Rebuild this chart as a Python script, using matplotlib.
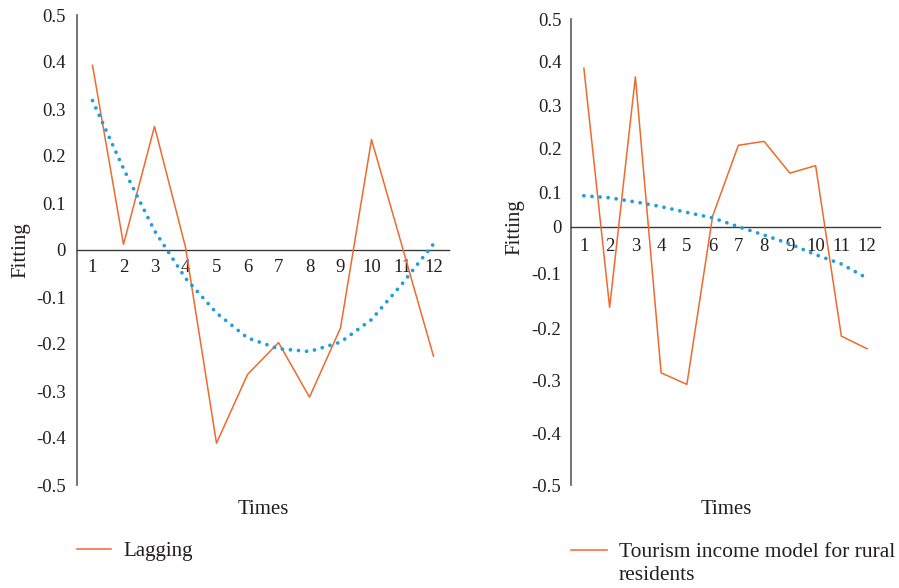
import numpy as np
import matplotlib
matplotlib.use("Agg")
import matplotlib.pyplot as plt

plt.rcParams["font.family"] = ["Liberation Serif", "DejaVu Serif"]

# data
times = list(range(1, 13))
lagging = [0.393, 0.012, 0.263, 0.006, -0.411, -0.265, -0.197, -0.313, -0.166, 0.235, 0.005, -0.226]
lagging_trend = [0.318, 0.173, 0.041, -0.060, -0.134, -0.187, -0.210, -0.216, -0.196, -0.148, -0.071, 0.013]
tourism = [0.385, -0.162, 0.365, -0.285, -0.307, 0.031, 0.207, 0.216, 0.144, 0.161, -0.215, -0.239]
tourism_trend = [0.091, 0.085, 0.073, 0.059, 0.042, 0.026, 0.0, -0.018, -0.037, -0.060, -0.080, -0.109]

y_ticks = [-0.5, -0.4, -0.3, -0.2, -0.1, 0.0, 0.1, 0.2, 0.3, 0.4, 0.5]
y_labels = ["-0.5", "-0.4", "-0.3", "-0.2", "-0.1", "0", "0.1", "0.2", "0.3", "0.4", "0.5"]

# the right panel's value axis is not evenly spaced in the original
right_tick_px = np.array([485, 433.3, 380.7, 328.3, 273.3, 226.7, 192.7, 148.3, 105, 61.7, 19.3])

ORANGE = "#EE6A2D"
BLUE = "#1E9FDB"
TXT = "#231f20"

W, H = 899, 588
fig = plt.figure(figsize=(W / 100, H / 100), dpi=100)


def px_axes(left, right, top, bottom):
    return fig.add_axes([left / W, 1 - bottom / H, (right - left) / W, (bottom - top) / H])


def style(ax, ypad, xpad):
    for s in ("top", "right"):
        ax.spines[s].set_visible(False)
    ax.spines["left"].set_color("#5a5a5a")
    ax.spines["left"].set_linewidth(1.2)
    ax.spines["bottom"].set_position(("data", 0))
    ax.spines["bottom"].set_color("#3a3a3a")
    ax.spines["bottom"].set_linewidth(1.0)
    ax.set_xlim(0.5, 12.5)
    ax.set_ylim(-0.5, 0.5)
    ax.set_xticks(times)
    ax.set_xticklabels([str(t) for t in times])
    ax.set_yticks(y_ticks)
    ax.set_yticklabels(y_labels)
    ax.tick_params(axis="x", length=0, pad=xpad, labelsize=13.5, labelcolor=TXT)
    ax.tick_params(axis="y", length=0, pad=ypad, labelsize=13.5, labelcolor=TXT)


def draw(ax, vals, trend, label):
    line, = ax.plot(times, vals, color=ORANGE, lw=1.1, zorder=3, label=label)
    ax.plot(times, trend, color=BLUE, lw=2.7, linestyle=(0, (0.01, 2.15)),
            dash_capstyle="round", zorder=4)
    return line


# left panel
ax1 = px_axes(77, 449, 15, 485)
style(ax1, 8, 6.5)
l1 = draw(ax1, lagging, lagging_trend, "Lagging")

# right panel
ax2 = px_axes(571, 880, 19.3, 485)
ax2.set_yscale("function", functions=(lambda v: np.interp(v, y_ticks, -right_tick_px),
                                      lambda s: np.interp(s, -right_tick_px, y_ticks)))
style(ax2, 7, 8)
l2 = draw(ax2, tourism, tourism_trend, "Tourism income model for rural")

# axis titles
fig.text(263 / W, 1 - 509 / H, "Times", ha="center", va="center", fontsize=15, color=TXT)
fig.text(726 / W, 1 - 509 / H, "Times", ha="center", va="center", fontsize=15, color=TXT)
fig.text(21 / W, 1 - 250 / H, "Fitting", ha="center", va="center", rotation=90, fontsize=15, color=TXT)
fig.text(515 / W, 1 - 227 / H, "Fitting", ha="center", va="center", rotation=90, fontsize=15, color=TXT)

# legends
for ax, ln, x0, yc, fs in ((ax1, l1, 77, 551, 15), (ax2, l2, 571, 552, 15.5)):
    leg = ax.legend(handles=[ln], loc="center left", bbox_to_anchor=(x0 / W, 1 - yc / H),
                    bbox_transform=fig.transFigure, frameon=False, fontsize=fs,
                    handlelength=1.65, handletextpad=0.6, borderpad=0, borderaxespad=0)
    for t in leg.get_texts():
        t.set_color(TXT)
# wrapped second line of the right legend entry
fig.text(619 / W, 1 - 575 / H, "residents", ha="left", va="center", fontsize=15.5, color=TXT)

fig.savefig("out.png", dpi=100)
